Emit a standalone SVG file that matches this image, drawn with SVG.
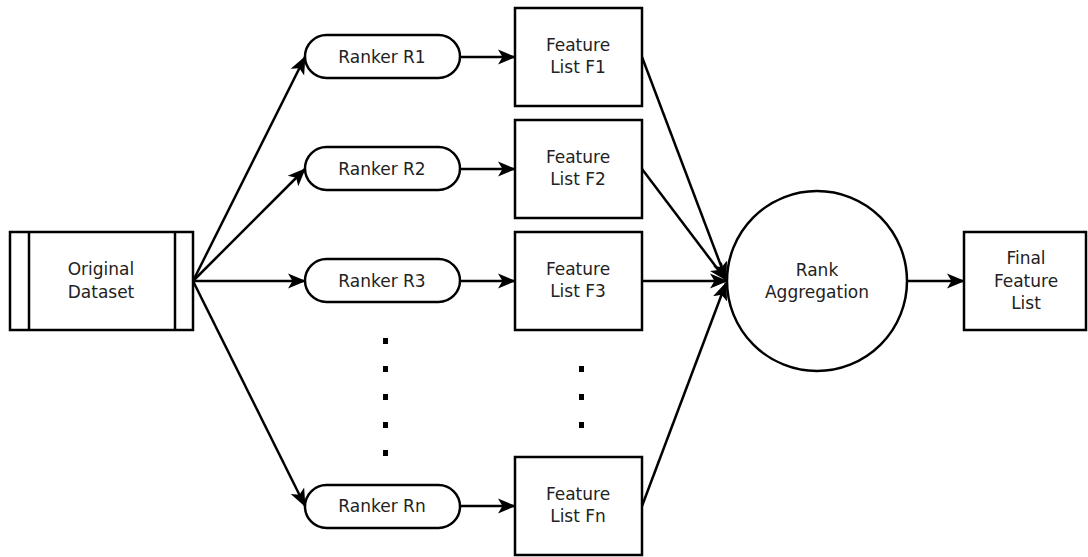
<svg xmlns="http://www.w3.org/2000/svg" width="1088" height="557" viewBox="0 0 1088 557">
<style>
.s{fill:#fff;stroke:#000;stroke-width:2.5}
.t{font-family:"DejaVu Sans",sans-serif;font-size:17px;fill:#222;text-anchor:middle}
.c{fill:none;stroke:#000;stroke-width:2.5;marker-end:url(#a)}
</style>
<defs>
<marker id="a" markerWidth="19" markerHeight="16" refX="17" refY="8" orient="auto" markerUnits="userSpaceOnUse">
<path d="M0,0.5 L18,8 L0,15.5 L4.5,8 Z" fill="#000"/>
</marker>
</defs>
<rect width="1088" height="557" fill="#fff"/>
<g id="connectors">
<line class="c" x1="193" y1="281" x2="305" y2="57"/>
<line class="c" x1="193" y1="281" x2="305" y2="169"/>
<line class="c" x1="193" y1="281" x2="305" y2="281"/>
<line class="c" x1="193" y1="281" x2="305" y2="506"/>
<line class="c" x1="460" y1="57" x2="515" y2="57"/>
<line class="c" x1="460" y1="169" x2="515" y2="169"/>
<line class="c" x1="460" y1="281" x2="515" y2="281"/>
<line class="c" x1="460" y1="506" x2="515" y2="506"/>
<line class="c" x1="642" y1="57" x2="726" y2="279"/>
<line class="c" x1="642" y1="169" x2="726" y2="280"/>
<line class="c" x1="642" y1="281" x2="727" y2="281"/>
<line class="c" x1="642" y1="506" x2="726" y2="283"/>
<line class="c" x1="908" y1="281" x2="964" y2="281"/>
</g>
<g id="original">
<rect class="s" x="10" y="232" width="183" height="98"/>
<line x1="29" y1="232" x2="29" y2="330" stroke="#000" stroke-width="2.5"/>
<line x1="175" y1="232" x2="175" y2="330" stroke="#000" stroke-width="2.5"/>
<text class="t" x="101" y="275">Original</text>
<text class="t" x="101" y="298">Dataset</text>
</g>
<g id="r1"><rect class="s" x="305" y="35" width="155" height="43" rx="21.5"/><text class="t" x="382" y="63">Ranker R1</text></g>
<g id="r2"><rect class="s" x="305" y="147" width="155" height="43" rx="21.5"/><text class="t" x="382" y="175">Ranker R2</text></g>
<g id="r3"><rect class="s" x="305" y="259" width="155" height="43" rx="21.5"/><text class="t" x="382" y="287">Ranker R3</text></g>
<g id="rn"><rect class="s" x="305" y="485" width="155" height="43" rx="21.5"/><text class="t" x="382" y="512">Ranker Rn</text></g>
<g id="f1"><rect class="s" x="515" y="8" width="127" height="98"/><text class="t" x="578" y="51">Feature</text><text class="t" x="578" y="73">List F1</text></g>
<g id="f2"><rect class="s" x="515" y="120" width="127" height="98"/><text class="t" x="578" y="163">Feature</text><text class="t" x="578" y="185">List F2</text></g>
<g id="f3"><rect class="s" x="515" y="232" width="127" height="98"/><text class="t" x="578" y="275">Feature</text><text class="t" x="578" y="297">List F3</text></g>
<g id="fn"><rect class="s" x="515" y="457" width="127" height="98"/><text class="t" x="578" y="500">Feature</text><text class="t" x="578" y="522">List Fn</text></g>
<g id="dots1" fill="#000">
<rect x="383" y="338" width="5" height="6"/>
<rect x="383" y="366" width="5" height="6"/>
<rect x="383" y="394" width="5" height="6"/>
<rect x="383" y="422" width="5" height="6"/>
<rect x="383" y="450" width="5" height="6"/>
</g>
<g id="dots2" fill="#000">
<rect x="579" y="366" width="5" height="6"/>
<rect x="579" y="394" width="5" height="6"/>
<rect x="579" y="422" width="5" height="6"/>
</g>
<g id="agg"><circle class="s" cx="817" cy="281" r="90"/><text class="t" x="817" y="276">Rank</text><text class="t" x="817" y="298">Aggregation</text></g>
<g id="final"><rect class="s" x="964" y="232" width="122" height="98"/><text class="t" x="1026" y="264">Final</text><text class="t" x="1026" y="287">Feature</text><text class="t" x="1026" y="309">List</text></g>
</svg>
